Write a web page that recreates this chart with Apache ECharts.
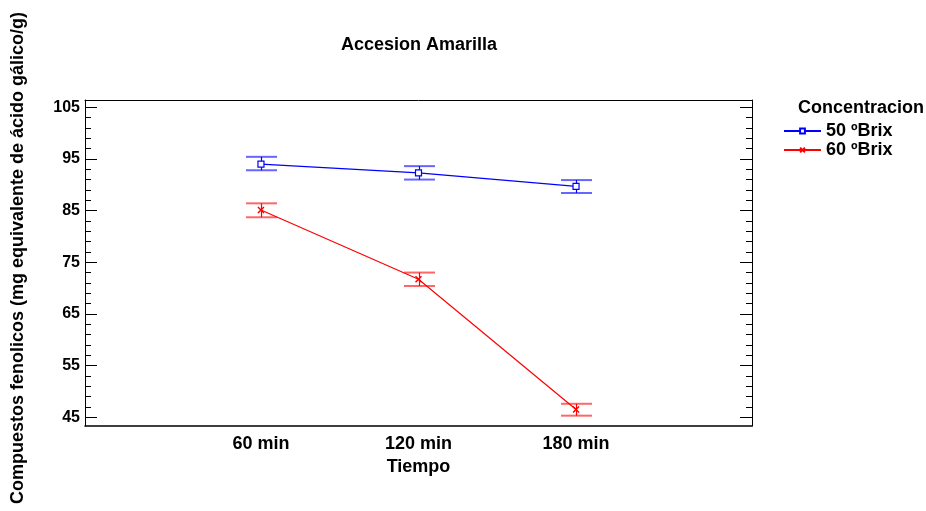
<!DOCTYPE html>
<html>
<head>
<meta charset="utf-8">
<script src="https://cdn.jsdelivr.net/npm/echarts@6/dist/echarts.min.js"></script>
<style>html,body{margin:0;padding:0;background:#fff;}#c{width:926px;height:511px;}</style>
</head>
<body>
<div id="c"></div>
<script>
var categories = ['60 min', '120 min', '180 min'];
var seriesNames = ['50 ºBrix', '60 ºBrix'];
var mean50 = [94.0, 92.3, 89.7];
var low50 = [92.8, 91.0, 88.4];
var high50 = [95.4, 93.6, 90.9];
var mean60 = [85.1, 71.7, 46.5];
var low60 = [83.7, 70.4, 45.3];
var high60 = [86.4, 73.0, 47.6];
var yMajorTicks = [45, 55, 65, 75, 85, 95, 105];
var yMinorTicks = [47, 49, 51, 53, 57, 59, 61, 63, 67, 69, 71, 73, 77, 79, 81, 83, 87, 89, 91, 93, 97, 99, 101, 103];

var FONT = '"Liberation Sans", Arial, sans-serif';
var chart = echarts.init(document.getElementById('c'));

function pts(m) { return m.map(function (v, i) { return [i + 1, v]; }); }
function errs(lo, hi) { return lo.map(function (v, i) { return [i + 1, v, hi[i]]; }); }

function errRender(color) {
  return function (params, api) {
    var x = api.value(0);
    var lo = api.coord([x, api.value(1)]);
    var hi = api.coord([x, api.value(2)]);
    var hw = 15.5;
    var cx = Math.round(lo[0]) + 0.5;
    return {
      type: 'group',
      children: [
        { type: 'line', shape: { x1: cx, y1: lo[1], x2: cx, y2: hi[1] }, style: { stroke: color, lineWidth: 1.2 } },
        { type: 'line', shape: { x1: cx - hw, y1: lo[1], x2: cx + hw, y2: lo[1] }, style: { stroke: color, lineWidth: 2, opacity: 0.6 } },
        { type: 'line', shape: { x1: cx - hw, y1: hi[1], x2: cx + hw, y2: hi[1] }, style: { stroke: color, lineWidth: 2, opacity: 0.6 } }
      ]
    };
  };
}

var yMin = 43.3, yMax = 106.4;
function yAx(pos, ticks, len, showLabel, showLine) {
  return {
    type: 'value', min: yMin, max: yMax, position: pos,
    splitLine: { show: false },
    axisLine: { show: showLine, onZero: false, lineStyle: { color: '#000', width: 1 } },
    axisTick: { show: true, inside: true, length: len, customValues: ticks, lineStyle: { color: '#000', width: 1 } },
    axisLabel: showLabel ? { show: true, customValues: ticks, color: '#000', fontFamily: FONT, fontWeight: 'bold', fontSize: 16, margin: 5 } : { show: false }
  };
}

var option = {
  animation: false,
  backgroundColor: '#fff',
  title: [
    { text: 'Accesion Amarilla', left: 414, top: 31, textAlign: 'center',
      textStyle: { fontFamily: FONT, fontWeight: 'bold', fontSize: 18, color: '#000' } },
    { text: 'Concentracion', left: 793, top: 94,
      textStyle: { fontFamily: FONT, fontWeight: 'bold', fontSize: 18, color: '#000' } }
  ],
  legend: {
    left: 778, top: 117, orient: 'vertical', itemWidth: 37, itemHeight: 6, itemGap: 1,
    data: seriesNames,
    textStyle: { fontFamily: FONT, fontWeight: 'bold', fontSize: 18, color: '#000', padding: [0, 0, 0, 0] }
  },
  grid: { left: 85, right: 174, top: 100, bottom: 85 },
  xAxis: [{
    type: 'value', min: -0.117, max: 4.117, position: 'bottom',
    name: 'Tiempo', nameLocation: 'middle', nameGap: 32,
    nameTextStyle: { fontFamily: FONT, fontWeight: 'bold', fontSize: 18, color: '#000' },
    splitLine: { show: false },
    axisLine: { show: true, onZero: false, lineStyle: { color: '#000', width: 1.5 } },
    axisTick: { show: false },
    axisLabel: { customValues: [1, 2, 3], formatter: function (v) { return categories[Math.round(v) - 1]; },
      color: '#000', fontFamily: FONT, fontWeight: 'bold', fontSize: 18, margin: 9 }
  }, {
    type: 'value', min: -0.117, max: 4.117, position: 'top',
    splitLine: { show: false },
    axisLine: { show: true, onZero: false, lineStyle: { color: '#000', width: 1 } },
    axisTick: { show: false }, axisLabel: { show: false }
  }],
  yAxis: [
    yAx('left', yMajorTicks, 12, true, true),
    yAx('left', yMinorTicks, 6, false, false),
    yAx('right', yMajorTicks, 12, false, true),
    yAx('right', yMinorTicks, 6, false, false)
  ],
  graphic: [{
    type: 'text', x: 18, y: 258, rotation: Math.PI / 2,
    style: { text: 'Compuestos fenolicos (mg equivalente de ácido gálico/g)', font: 'bold 18px ' + FONT, fill: '#000', align: 'center', verticalAlign: 'middle' }
  }],
  series: [
    { name: seriesNames[0], type: 'line', data: pts(mean50), color: '#0000ff',
      symbol: 'rect', symbolSize: 6, itemStyle: { color: '#fff', borderColor: '#0000ff', borderWidth: 1.2 },
      lineStyle: { color: '#0000ff', width: 1.2 }, z: 3 },
    { name: seriesNames[1], type: 'line', data: pts(mean60), color: '#ff0000',
      symbol: 'path://M0,0 L10,10 M10,0 L0,10', symbolSize: 6, itemStyle: { color: 'none', borderColor: '#ff0000', borderWidth: 1.5 },
      lineStyle: { color: '#ff0000', width: 1.2 }, z: 3 },
    { type: 'custom', data: errs(low50, high50), renderItem: errRender('#0000ff'), z: 2, silent: true },
    { type: 'custom', data: errs(low60, high60), renderItem: errRender('#ff0000'), z: 2, silent: true }
  ]
};
chart.setOption(option);
</script>
</body>
</html>
